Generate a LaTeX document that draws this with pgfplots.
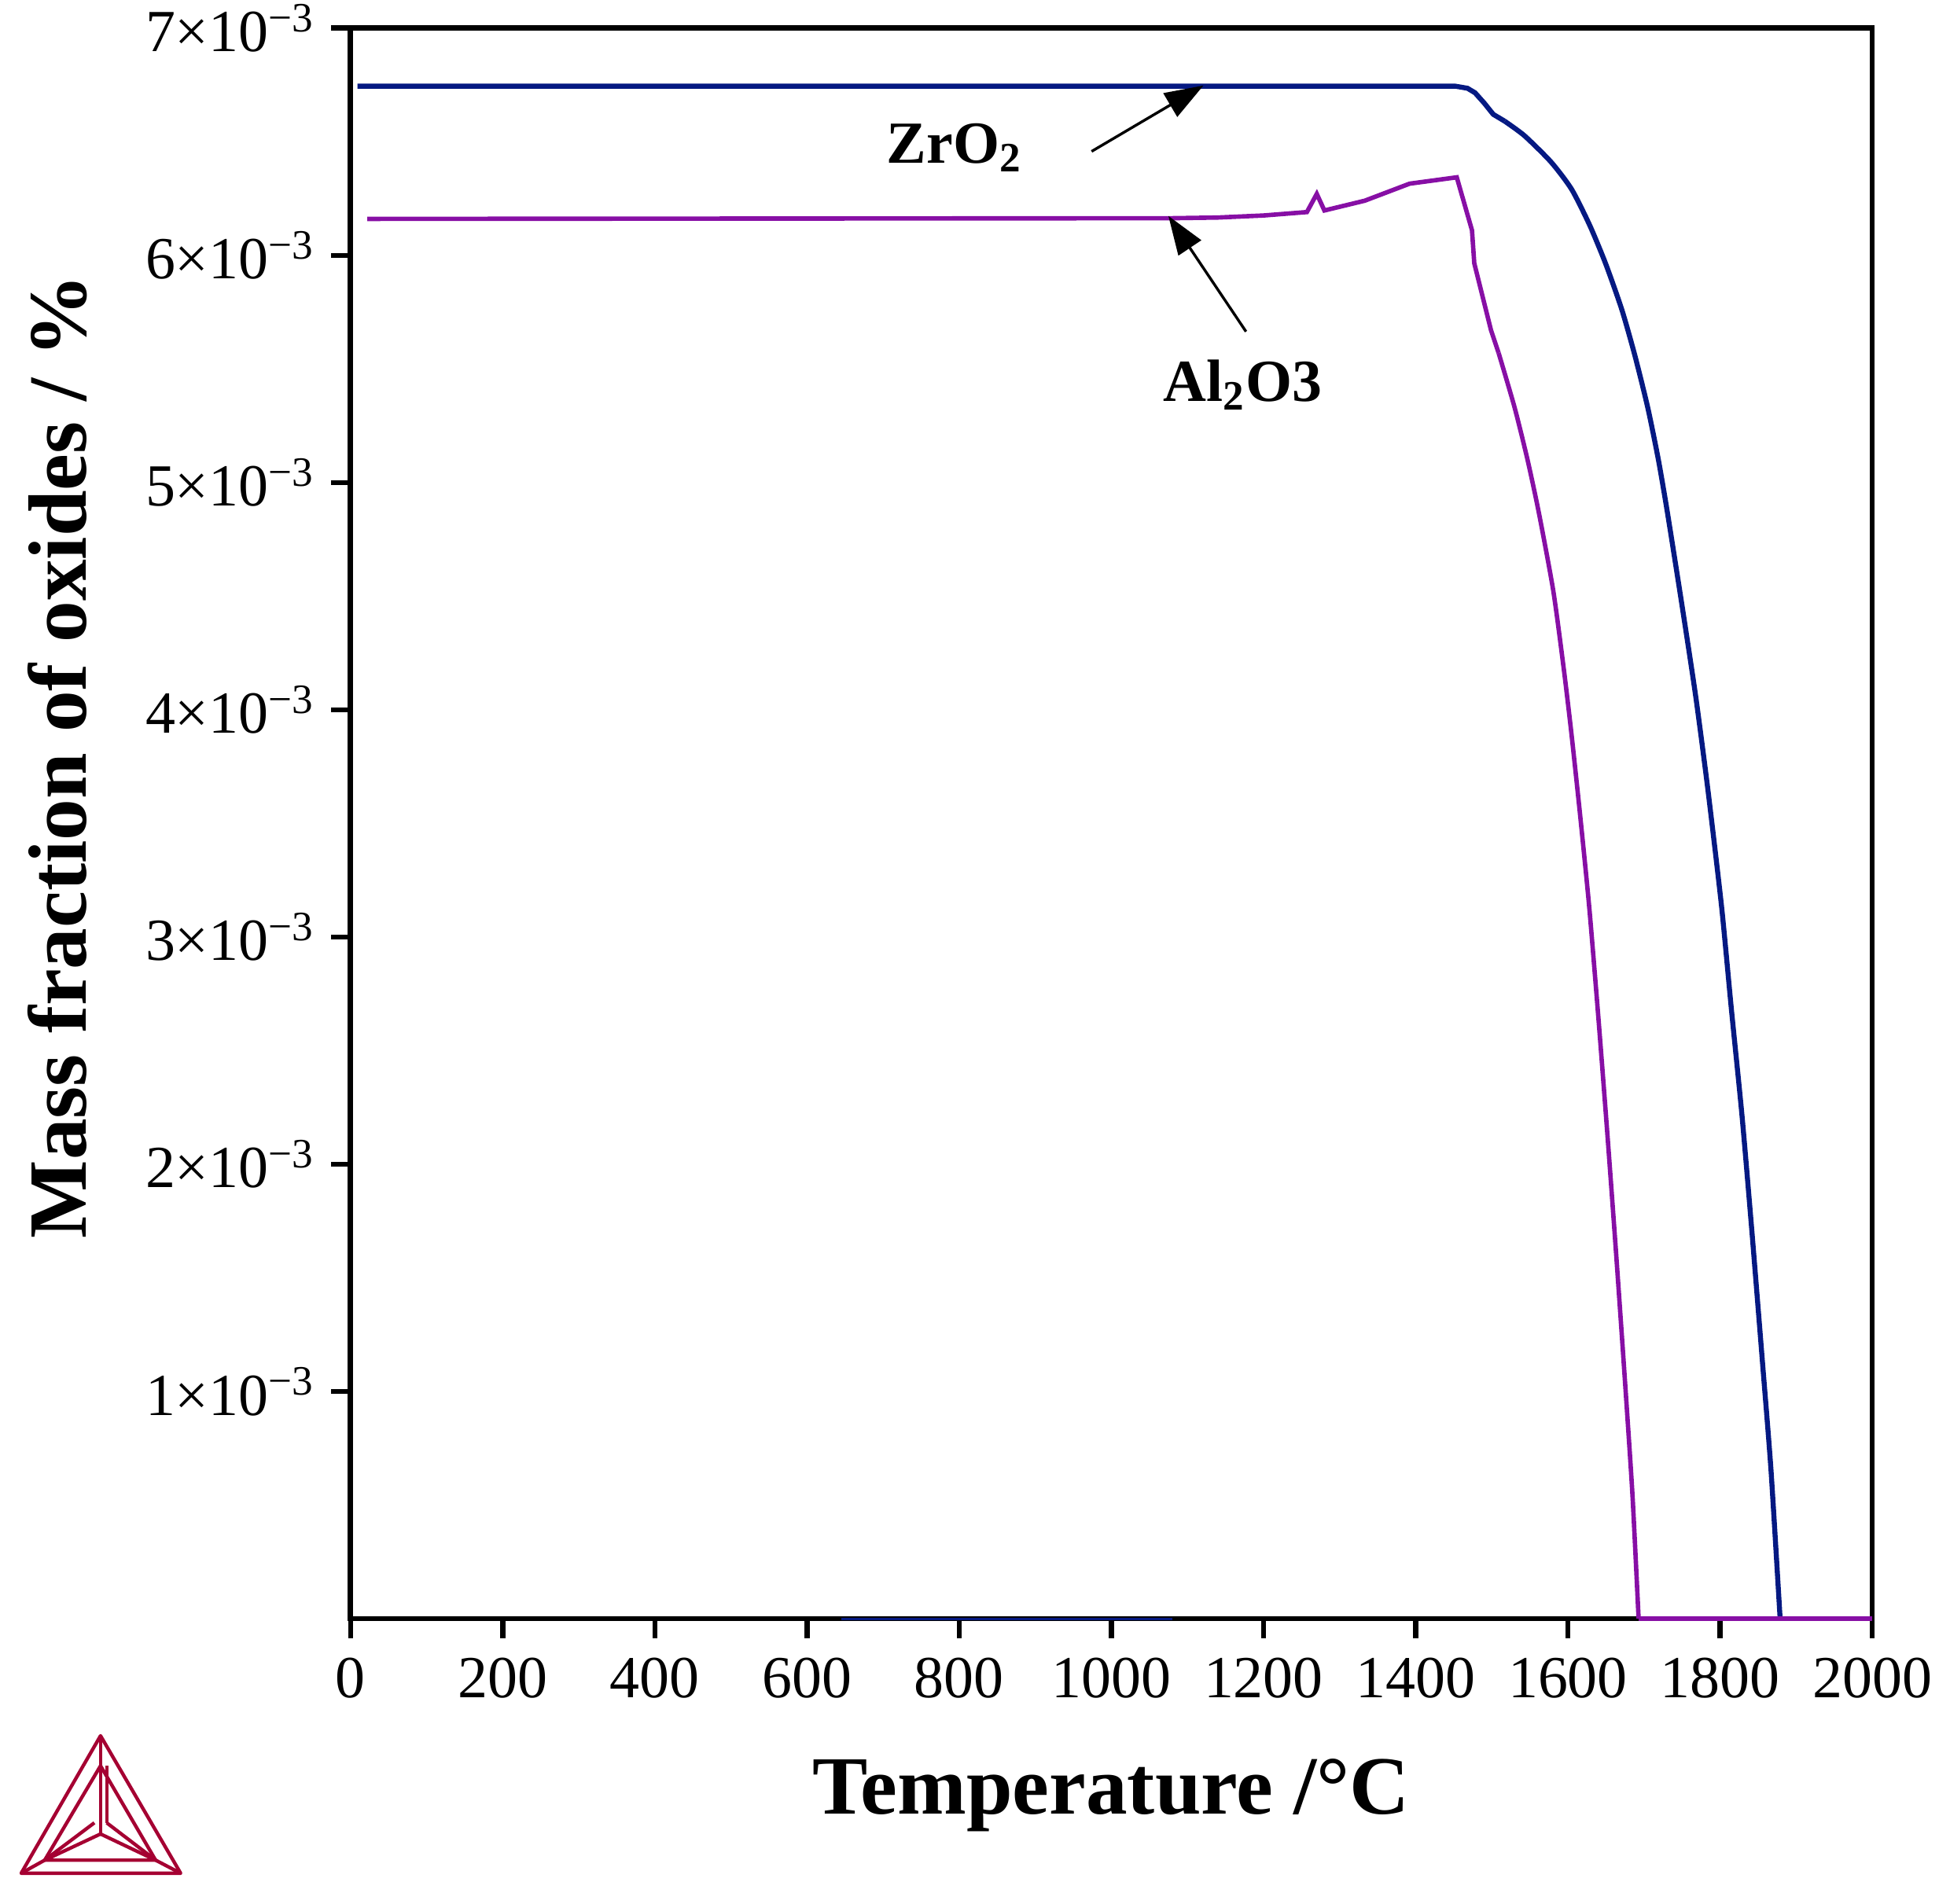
\documentclass[border=0pt]{standalone}
\usepackage{pgfplots}
\pgfplotsset{compat=1.18}
\usepackage{fontspec}
\setmainfont{Liberation Serif}
\usetikzlibrary{arrows.meta}
\definecolor{zrblue}{RGB}{5,25,130}
\definecolor{alpurple}{RGB}{135,15,165}
\definecolor{tclogo}{RGB}{165,0,50}
\begin{document}
\begin{tikzpicture}
\begin{axis}[
  name=ax,
  scale only axis,
  width=395pt, height=413pt,
  xmin=0, xmax=2000, ymin=0, ymax=7,
  xtick={0,200,...,2000},
  ytick={1,2,3,4,5,6,7},
  yticklabels={1×10\textsuperscript{−3},2×10\textsuperscript{−3},3×10\textsuperscript{−3},4×10\textsuperscript{−3},5×10\textsuperscript{−3},6×10\textsuperscript{−3},7×10\textsuperscript{−3}},
  /pgf/number format/assume math mode=true,
  /pgf/number format/1000 sep={},
  xtick pos=left, ytick pos=left,
  tick align=outside,
  major tick length=5pt,
  tick style={line width=1.3pt, black},
  axis line style={line width=1.4pt},
  ticklabel style={font=\fontsize{15.5}{18}\selectfont},
  xticklabel style={inner sep=1pt, yshift=-4pt},
  yticklabel style={inner sep=1pt, xshift=-3pt},
  xlabel={\textbf{Temperature /°C}},
  ylabel={\textbf{Mass fraction of oxides / \%}},
  label style={font=\fontsize{21.5}{25}\selectfont},
  xlabel style={at={(axis description cs:0.5,0)}, anchor=center, yshift=-45.9pt},
  ylabel style={at={(axis description cs:-0.1924,0.542)}, anchor=center},
  clip=false,
]
\addplot[zrblue, line width=1.3pt] coordinates {
(9,6.744) (1452,6.744) (1468,6.735) (1478,6.715) (1490,6.67) (1502,6.62) (1517,6.59)
};
\addplot[zrblue, line width=1.3pt, smooth, tension=0.4] coordinates {
(1517,6.59) (1543,6.526) (1578,6.41) (1605,6.29) (1629,6.13) (1650,5.96) (1671,5.76) (1688,5.56)
(1705,5.33) (1719,5.10) (1731,4.865) (1750,4.46) (1768,4.06) (1784,3.65) (1802,3.135)
(1815,2.68) (1829,2.21) (1842,1.70) (1856,1.12) (1867,0.654) (1879,0)
};
\addplot[zrblue, line width=1.3pt] coordinates {(1879,0) (2000,0)};
\addplot[alpurple, line width=1.15pt] coordinates {
(22,6.16) (1080,6.163) (1140,6.166) (1200,6.175) (1257,6.19) (1270,6.27) (1280,6.197)
(1333,6.24) (1392,6.315) (1454,6.343) (1474,6.11) (1477,5.965) (1499,5.67) (1509,5.57)
};
\addplot[alpurple, line width=1.15pt, smooth, tension=0.4] coordinates {
(1509,5.57) (1530,5.33) (1547,5.10) (1562,4.865) (1581,4.52) (1595,4.17) (1605,3.886) (1616,3.54)
(1628,3.135) (1640,2.65) (1652,2.13) (1664,1.58) (1676,1.0) (1685,0.54) (1693,0)
};
\addplot[alpurple, line width=1.15pt] coordinates {(1693,0) (2000,0)};
\addplot[zrblue, line width=0.6pt] coordinates {(645,0) (1080,0)};
\draw[line width=0.7pt, -{Triangle[length=10pt,width=7pt]}] (axis cs:974,6.457) -- (axis cs:1121,6.747);
\draw[line width=0.7pt, -{Triangle[length=10pt,width=7pt]}] (axis cs:1177,5.664) -- (axis cs:1075,6.173);
\node[font=\fontsize{15.5}{18}\selectfont\bfseries] at (axis cs:794,6.474) {ZrO\textsubscript{2}};
\node[font=\fontsize{15.5}{18}\selectfont\bfseries] at (axis cs:1173,5.43) {Al\textsubscript{2}O3};
\end{axis}
% Thermo-Calc style logo
\begin{scope}[shift={(ax.south west)}, tclogo, line width=0.9pt, line join=round]
\draw (-64.9pt,-30.4pt) -- (-85.5pt,-66.1pt) -- (-44.1pt,-66.1pt) -- cycle;
\draw (-64.9pt,-38.2pt) -- (-79.4pt,-62.7pt) -- (-50.6pt,-62.7pt) -- cycle;
\draw (-64.9pt,-30.4pt) -- (-64.9pt,-55.9pt);
\draw (-63.3pt,-38.2pt) -- (-63.3pt,-53pt);
\draw (-64.9pt,-55.9pt) -- (-79.4pt,-62.7pt);
\draw (-64.9pt,-55.9pt) -- (-50.6pt,-62.7pt);
\draw (-66.5pt,-53pt) -- (-79.4pt,-62.7pt);
\draw (-63.3pt,-53pt) -- (-50.6pt,-62.7pt);
\draw (-79.4pt,-62.7pt) -- (-85.5pt,-66.1pt);
\draw (-50.6pt,-62.7pt) -- (-44.1pt,-66.1pt);
\end{scope}
\path (ax.south west) +(-91pt,-74pt);
\path (ax.north east) +(20.2pt,6.7pt);
\end{tikzpicture}
\end{document}
